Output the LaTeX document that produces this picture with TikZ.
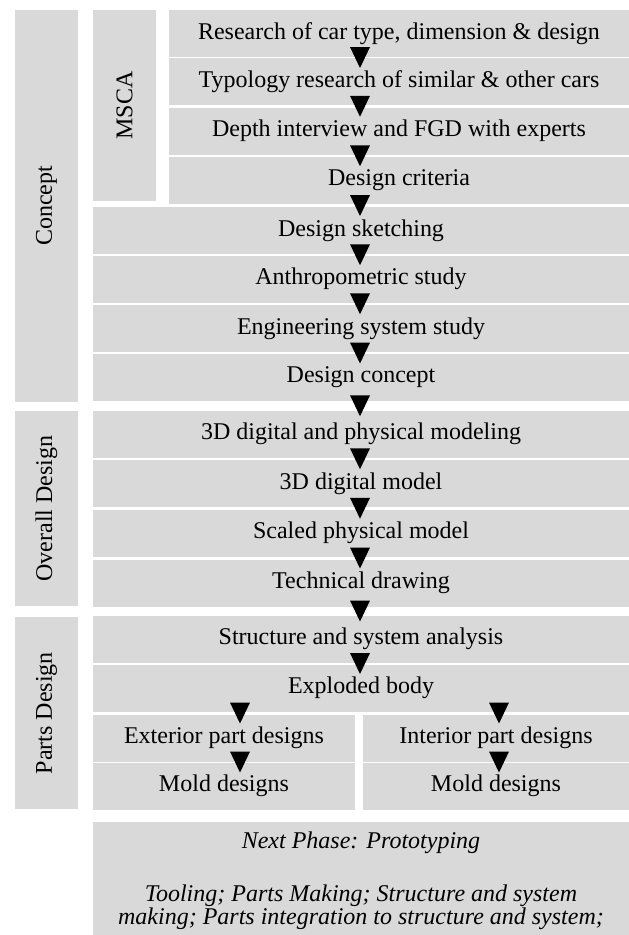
\documentclass[tikz,border=0pt]{standalone}
\usepackage{fontspec}
\setmainfont{Liberation Serif}
\usetikzlibrary{calc}
\definecolor{boxgray}{RGB}{217,217,217}
\tikzset{
  phase/.style={fill=boxgray, inner sep=0pt, rotate=90, minimum height=63pt},
  stepbox/.style={fill=boxgray, inner sep=0pt, minimum height=47pt},
  widebox/.style={stepbox, minimum width=536pt},
  drop/.pic={\fill (-10,-10.5) -- (10,-10.5) -- (0,10.5) -- cycle;}
}
% black wedge sitting on the gap between two steps
\newcommand{\stepdown}[3]{\pic at ($(#2.south -| #1)!0.5!(#3.north -| #1)$) {drop};}

\begin{document}
\begin{tikzpicture}[x=1pt, y=-1pt, every node/.style={font=\fontsize{24}{24}\selectfont}]
\useasboundingbox (0,0) rectangle (629,935);

% phases on the left
\node[phase, minimum width=392pt] (concept) at (46.5,206) {Concept};
\node[phase, minimum width=191pt] (msca) at (124.5,105.5) {MSCA};
\node[phase, minimum width=195pt] (overall) at (46.5,508.5) {Overall Design};
\node[phase, minimum width=192pt] (parts) at (46.5,713) {Parts Design};

% MSCA steps
\node[stepbox, minimum width=460pt] (r1) at (399,33.5) {Research of car type, dimension \& design};
\node[stepbox, minimum width=460pt] (r2) at (399,81.5) {Typology research of similar \& other cars};
\node[stepbox, minimum width=460pt] (r3) at (399,131) {Depth interview and FGD with experts};
\node[stepbox, minimum width=460pt] (r4) at (399,180.5) {Design criteria};

% concept
\node[widebox] (r5) at (361,230.5) {Design sketching};
\node[widebox] (r6) at (361,279) {Anthropometric study};
\node[widebox] (r7) at (361,328.5) {Engineering system study};
\node[widebox] (r8) at (361,377.5) {Design concept};

% overall design
\node[widebox] (r9) at (361,434) {3D digital and physical modeling};
\node[widebox] (r10) at (361,483.5) {3D digital model};
\node[widebox] (r11) at (361,533) {Scaled physical model};
\node[widebox] (r12) at (361,583) {Technical drawing};

% parts design
\node[widebox] (r13) at (361,639) {Structure and system analysis};
\node[widebox] (r14) at (361,688) {Exploded body};
\node[stepbox, minimum width=262pt] (ext) at (224,738) {Exterior part designs};
\node[stepbox, minimum width=266pt] (int) at (496,738) {Interior part designs};
\node[stepbox, minimum width=262pt] (moldl) at (224,786) {Mold designs};
\node[stepbox, minimum width=266pt] (moldr) at (496,786) {Mold designs};

% next phase, runs off the bottom edge
\node[fill=boxgray, inner sep=0pt, minimum width=536pt, minimum height=118pt, align=center,
  font=\fontsize{24}{21.7}\selectfont\itshape] (next) at (361,881)
  {Next Phase: Prototyping\\[30.3pt]
   Tooling; Parts Making; Structure and system\\
   making; Parts integration to structure and system;};

% arrows
\coordinate (mid) at (360,0);
\coordinate (xl) at (240,0);
\coordinate (xr) at (499,0);
\foreach \a/\b in {r1/r2, r2/r3, r3/r4, r4/r5, r5/r6, r6/r7, r7/r8, r8/r9,
                   r9/r10, r10/r11, r11/r12, r12/r13, r13/r14}
  {\stepdown{mid}{\a}{\b}}
\stepdown{xl}{r14}{ext}
\stepdown{xr}{r14}{int}
\stepdown{xl}{ext}{moldl}
\stepdown{xr}{int}{moldr}
\end{tikzpicture}
\end{document}
